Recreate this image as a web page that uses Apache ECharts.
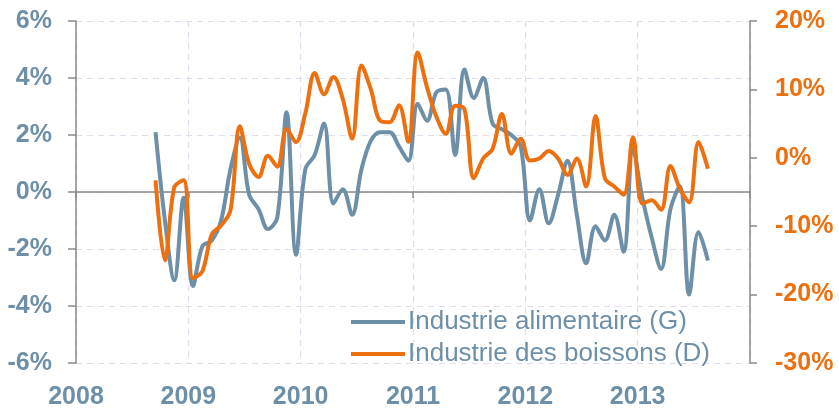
<!DOCTYPE html>
<html>
<head>
<meta charset="utf-8">
<script src="https://cdn.jsdelivr.net/npm/echarts@6/dist/echarts.min.js"></script>
<style>
  html, body { margin: 0; padding: 0; background: #fff; }
  #chart { width: 839px; height: 410px; }
</style>
</head>
<body>
<div id="chart"></div>
<script>
// mois (données mensuelles, sept. 2008 -> août 2013)
var months = [
  '2008-09','2008-10','2008-11','2008-12',
  '2009-01','2009-02','2009-03','2009-04','2009-05','2009-06','2009-07','2009-08','2009-09','2009-10','2009-11','2009-12',
  '2010-01','2010-02','2010-03','2010-04','2010-05','2010-06','2010-07','2010-08','2010-09','2010-10','2010-11','2010-12',
  '2011-01','2011-02','2011-03','2011-04','2011-05','2011-06','2011-07','2011-08','2011-09','2011-10','2011-11','2011-12',
  '2012-01','2012-02','2012-03','2012-04','2012-05','2012-06','2012-07','2012-08','2012-09','2012-10','2012-11','2012-12',
  '2013-01','2013-02','2013-03','2013-04','2013-05','2013-06','2013-07','2013-08'
];

// Industrie alimentaire (G), en %
var alimentaire = [
  2.1, -1.0, -3.1, -0.2,
  -3.3, -1.9, -1.7, -1.0, 0.8, 1.9, -0.1, -0.6, -1.3, -0.9, 2.8, -2.2,
  0.8, 1.3, 2.4, -0.4, 0.1, -0.8, 0.8, 1.8, 2.1, 2.1, 1.6, 1.1,
  3.1, 2.5, 3.5, 3.6, 1.3, 4.3, 3.3, 4.0, 2.4, 2.2, 2.0, 1.6,
  -1.0, 0.1, -1.1, -0.1, 1.1, -0.8, -2.5, -1.2, -1.7, -0.8, -2.1, 1.5,
  -0.2, -1.6, -2.7, -0.6, 0.2, -3.6, -1.4, -2.4
];

// Industrie des boissons (D), en %
var boissons = [
  -3.3, -15.0, -4.3, -3.3,
  -17.6, -16.6, -11.2, -9.9, -7.7, 4.6, -0.9, -2.8, 0.3, -1.3, 4.2, 2.3,
  6.5, 12.4, 9.3, 11.8, 8.6, 2.8, 13.5, 10.0, 5.4, 5.2, 7.7, 2.3,
  15.4, 10.3, 6.0, 3.5, 7.6, 7.1, -3.0, -0.1, 1.3, 6.4, 0.6, 2.8,
  -0.4, -0.1, 1.0, -0.1, -2.5, -0.1, -4.2, 6.1, -3.0, -4.2, -5.4, 3.0,
  -6.7, -6.2, -7.6, -1.2, -4.5, -6.5, 2.3, -1.6
];

var yearTicks = [2008, 2009, 2010, 2011, 2012, 2013];

var BLUE = '#6d8fa7';
var ORANGE = '#ec700f';
var FONT = 'Liberation Sans, Arial, sans-serif';

// mois -> position en année décimale (milieu du mois)
function toYear(m) {
  var p = m.split('-');
  return +p[0] + (+p[1] - 0.5) / 12;
}

var chart = echarts.init(document.getElementById('chart'));

var gridDash = { color: '#e1dcec', width: 1.2, type: [6, 5] };

chart.setOption({
  animation: false,
  textStyle: { fontFamily: FONT },
  grid: { left: 76, right: 89, top: 21, bottom: 45 },
  legend: {
    orient: 'vertical',
    left: 351,
    top: 309,
    padding: 0,
    itemGap: 6,
    itemWidth: 54,
    itemHeight: 4,
    icon: 'rect',
    textStyle: { fontSize: 26, color: BLUE, fontFamily: FONT, padding: [0, 0, 0, -2] },
    data: ['Industrie alimentaire (G)', 'Industrie des boissons (D)']
  },
  xAxis: [
    {
      type: 'value',
      min: 2008,
      max: 2014,
      interval: 1,
      axisLine: { show: false, onZero: false },
      axisTick: { show: false },
      axisLabel: {
        showMaxLabel: false,
        margin: 22,
        fontSize: 25,
        fontWeight: 'bold',
        color: BLUE,
        formatter: function (v) { return yearTicks.indexOf(v) >= 0 ? String(v) : ''; }
      },
      splitLine: { show: true, lineStyle: gridDash }
    },
    {
      type: 'value',
      min: 2008,
      max: 2014,
      interval: 1,
      position: 'bottom',
      axisLine: { show: true, onZero: true, onZeroAxisIndex: 0, lineStyle: { color: '#8a8a8a', width: 1.5 } },
      axisTick: { show: true, length: 6, lineStyle: { color: '#8a8a8a', width: 1.5 } },
      axisLabel: { show: false },
      splitLine: { show: false }
    }
  ],
  yAxis: [
    {
      type: 'value',
      position: 'left',
      min: -6,
      max: 6,
      interval: 2,
      axisLine: { show: true, onZero: false, lineStyle: { color: '#8a8a8a', width: 1.5 } },
      axisTick: { show: true, length: 8, lineStyle: { color: '#8a8a8a', width: 1.5 } },
      axisLabel: {
        margin: 24,
        fontSize: 25,
        fontWeight: 'bold',
        color: BLUE,
        formatter: '{value}%'
      },
      splitLine: { show: true, lineStyle: gridDash }
    },
    {
      type: 'value',
      position: 'right',
      min: -30,
      max: 20,
      interval: 10,
      axisLine: { show: true, onZero: false, lineStyle: { color: '#8a8a8a', width: 1.5 } },
      axisTick: { show: true, length: 7, lineStyle: { color: '#8a8a8a', width: 1.5 } },
      axisLabel: {
        margin: 25,
        fontSize: 25,
        fontWeight: 'bold',
        color: ORANGE,
        formatter: '{value}%'
      },
      splitLine: { show: false }
    }
  ],
  series: [
    {
      name: 'Industrie alimentaire (G)',
      type: 'line',
      xAxisIndex: 0,
      yAxisIndex: 0,
      data: months.map(function (m, i) { return [toYear(m), alimentaire[i]]; }),
      smooth: 0.35,
      showSymbol: false,
      symbol: 'none',
      lineStyle: { color: BLUE, width: 4 },
      itemStyle: { color: BLUE },
      z: 3
    },
    {
      name: 'Industrie des boissons (D)',
      type: 'line',
      xAxisIndex: 0,
      yAxisIndex: 1,
      data: months.map(function (m, i) { return [toYear(m), boissons[i]]; }),
      smooth: 0.35,
      showSymbol: false,
      symbol: 'none',
      lineStyle: { color: ORANGE, width: 4 },
      itemStyle: { color: ORANGE },
      z: 4
    }
  ]
});
</script>
</body>
</html>
